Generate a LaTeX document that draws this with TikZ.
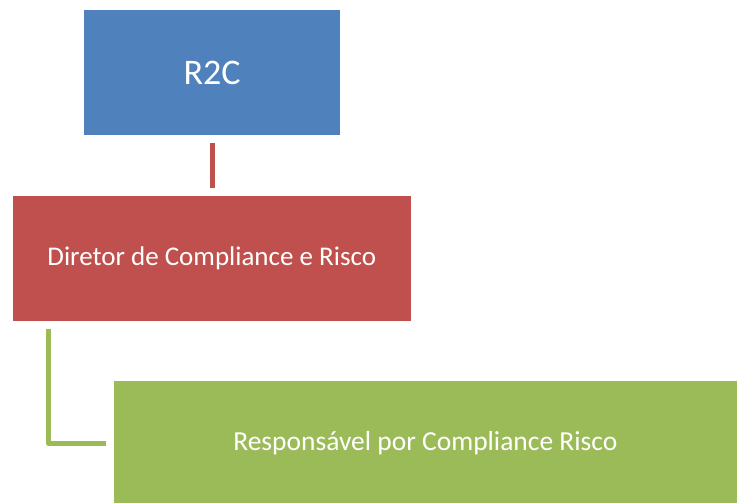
\documentclass[tikz,border=0pt]{standalone}
\usepackage{fontspec}
\setmainfont{Carlito}
\usepackage{tikz}
\usetikzlibrary{positioning}
\definecolor{caixaazul}{HTML}{4F81BD}
\definecolor{caixavermelha}{HTML}{C0504D}
\definecolor{caixaverde}{HTML}{9BBB59}
\tikzset{caixa/.style={rectangle, inner sep=0pt, text=white, anchor=center}}
\begin{document}
\begin{tikzpicture}[x=1pt, y=-1pt, line width=5pt]
	\useasboundingbox (0,0) rectangle (737,503);
	\begin{scope}
	\clip (0,0) rectangle (737,503);
	\node (R2C) at (212,72.5) [caixa, fill=caixaazul, minimum width=256pt, minimum height=125pt, font=\fontsize{36}{40}\selectfont]{R2C};
	\node (diretor) at (211.75,258.25) [caixa, fill=caixavermelha, minimum width=398.5pt, minimum height=125.5pt, font=\fontsize{27}{31}\selectfont]{Diretor de Compliance e Risco};
	\node (resp) at (425.35,443.5) [caixa, fill=caixaverde, minimum width=623.3pt, minimum height=125pt, font=\fontsize{27.5}{31}\selectfont]{Responsável por Compliance Risco};
	\end{scope}
	\draw [caixavermelha, shorten <=5.7pt, shorten >=5.2pt](R2C.south)--(R2C.south |- diretor.north);
	\draw [caixaverde, line join=round]([xshift=38.5pt, yshift=-5.7pt]diretor.south west) |- ([xshift=-5.5pt]resp.west);
	%\node at (212,10){topo};
\end{tikzpicture}
\end{document}
